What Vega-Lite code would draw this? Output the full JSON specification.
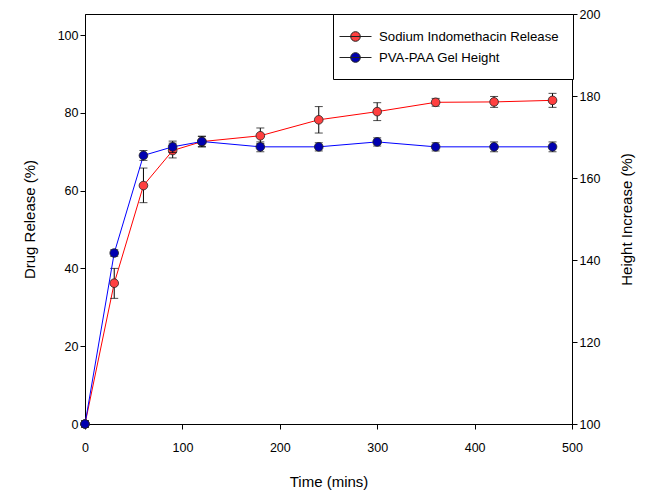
{
  "$schema": "https://vega.github.io/schema/vega-lite/v6.json",
  "width": 487,
  "height": 410,
  "autosize": "none",
  "padding": {"left": 85, "top": 14, "right": 78, "bottom": 68},
  "background": "white",
  "config": {
    "view": {"stroke": "black", "strokeWidth": 1},
    "font": "Liberation Sans",
    "axis": {
      "grid": false,
      "domainColor": "black",
      "tickColor": "black",
      "tickSize": 5,
      "labelColor": "black",
      "titleColor": "black",
      "labelFontSize": 12.5,
      "titleFontSize": 15,
      "titleFontWeight": "normal",
      "labelFont": "Liberation Sans",
      "titleFont": "Liberation Sans",
      "labelFlush": false
    }
  },
  "datasets": {
    "rel": [
      {"t": 0, "v": 0, "lo": -0.8, "hi": 0.8, "series": "Sodium Indomethacin Release"},
      {"t": 30, "v": 36.2, "lo": 32.3, "hi": 40.0, "series": "Sodium Indomethacin Release"},
      {"t": 60, "v": 61.3, "lo": 56.9, "hi": 65.8, "series": "Sodium Indomethacin Release"},
      {"t": 90, "v": 70.3, "lo": 68.4, "hi": 72.2, "series": "Sodium Indomethacin Release"},
      {"t": 120, "v": 72.6, "lo": 71.2, "hi": 74.0, "series": "Sodium Indomethacin Release"},
      {"t": 180, "v": 74.1, "lo": 72.1, "hi": 76.1, "series": "Sodium Indomethacin Release"},
      {"t": 240, "v": 78.2, "lo": 74.8, "hi": 81.6, "series": "Sodium Indomethacin Release"},
      {"t": 300, "v": 80.3, "lo": 78.0, "hi": 82.6, "series": "Sodium Indomethacin Release"},
      {"t": 360, "v": 82.7, "lo": 81.7, "hi": 83.7, "series": "Sodium Indomethacin Release"},
      {"t": 420, "v": 82.8, "lo": 81.4, "hi": 84.2, "series": "Sodium Indomethacin Release"},
      {"t": 480, "v": 83.2, "lo": 81.4, "hi": 85.0, "series": "Sodium Indomethacin Release"}
    ],
    "gel": [
      {"t": 0, "v": 100, "lo": 99.2, "hi": 100.8, "series": "PVA-PAA Gel Height"},
      {"t": 30, "v": 141.7, "lo": 140.9, "hi": 142.5, "series": "PVA-PAA Gel Height"},
      {"t": 60, "v": 165.5, "lo": 164.3, "hi": 166.7, "series": "PVA-PAA Gel Height"},
      {"t": 90, "v": 167.6, "lo": 166.2, "hi": 169.0, "series": "PVA-PAA Gel Height"},
      {"t": 120, "v": 168.9, "lo": 167.7, "hi": 170.1, "series": "PVA-PAA Gel Height"},
      {"t": 180, "v": 167.6, "lo": 166.4, "hi": 168.8, "series": "PVA-PAA Gel Height"},
      {"t": 240, "v": 167.6, "lo": 166.6, "hi": 168.6, "series": "PVA-PAA Gel Height"},
      {"t": 300, "v": 168.8, "lo": 167.8, "hi": 169.8, "series": "PVA-PAA Gel Height"},
      {"t": 360, "v": 167.6, "lo": 166.6, "hi": 168.6, "series": "PVA-PAA Gel Height"},
      {"t": 420, "v": 167.6, "lo": 166.4, "hi": 168.8, "series": "PVA-PAA Gel Height"},
      {"t": 480, "v": 167.6, "lo": 166.4, "hi": 168.8, "series": "PVA-PAA Gel Height"}
    ]
  },
  "encoding": {
    "x": {
      "field": "t",
      "type": "quantitative",
      "scale": {"domain": [0, 500], "nice": false, "zero": false},
      "axis": {"values": [0, 100, 200, 300, 400, 500], "title": "Time (mins)", "labelPadding": 12, "titlePadding": 21}
    }
  },
  "layer": [
    {
      "data": {"name": "rel"},
      "layer": [
        {
          "mark": {"type": "line", "color": "#ff0000", "strokeWidth": 1},
          "encoding": {
            "y": {
              "field": "v",
              "type": "quantitative",
              "title": "Drug Release (%)",
              "scale": {"domain": [0, 105.4], "nice": false},
              "axis": {"orient": "left", "values": [0, 20, 40, 60, 80, 100], "title": "Drug Release (%)", "titlePadding": 20}
            }
          }
        },
        {
          "mark": {"type": "errorbar", "color": "black", "ticks": {"size": 8, "color": "black"}, "thickness": 1},
          "encoding": {
            "y": {"field": "lo", "type": "quantitative", "title": "Drug Release (%)"},
            "y2": {"field": "hi"}
          }
        },
        {
          "mark": {"type": "point", "filled": true, "size": 75, "stroke": "#222222", "strokeWidth": 0.8, "opacity": 1},
          "encoding": {
            "y": {"field": "v", "type": "quantitative", "title": "Drug Release (%)"},
            "color": {
              "field": "series",
              "type": "nominal",
              "scale": {"domain": ["Sodium Indomethacin Release", "PVA-PAA Gel Height"], "range": ["#ff4040", "#0000b0"]},
              "legend": {
                "title": null,
                "orient": "none",
                "legendX": 248,
                "legendY": 0,
                "direction": "vertical",
                "strokeColor": "black",
                "fillColor": "white",
                "padding": 14,
                "rowPadding": 5,
                "labelFontSize": 13.2,
                "labelColor": "black",
                "labelFont": "Liberation Sans",
                "labelOffset": 15,
                "symbolSize": 256,
                "symbolStrokeWidth": 1,
                "symbolType": "M-2,0L2,0M0.6,0A0.6,0.6 0 1 1 -0.6,0A0.6,0.6 0 1 1 0.6,0",
                "labelLimit": 300,
                "encode": {"symbols": {"update": {"stroke": {"scale": "color", "field": "value"}}}}
              }
            }
          }
        }
      ]
    },
    {
      "data": {"name": "gel"},
      "layer": [
        {
          "mark": {"type": "line", "color": "#0000ff", "strokeWidth": 1},
          "encoding": {
            "y": {
              "field": "v",
              "type": "quantitative",
              "title": "Height Increase (%)",
              "scale": {"domain": [100, 200], "nice": false, "zero": false},
              "axis": {"orient": "right", "values": [100, 120, 140, 160, 180, 200], "title": "Height Increase (%)", "titlePadding": 35, "titleAngle": 270}
            }
          }
        },
        {
          "mark": {"type": "errorbar", "color": "black", "ticks": {"size": 8, "color": "black"}, "thickness": 1},
          "encoding": {
            "y": {"field": "lo", "type": "quantitative", "title": "Height Increase (%)"},
            "y2": {"field": "hi"}
          }
        },
        {
          "mark": {"type": "point", "filled": true, "size": 75, "stroke": "#222222", "strokeWidth": 0.8, "opacity": 1},
          "encoding": {
            "y": {"field": "v", "type": "quantitative", "title": "Height Increase (%)"},
            "color": {"field": "series", "type": "nominal"}
          }
        }
      ]
    }
  ],
  "resolve": {"scale": {"y": "independent"}}
}
